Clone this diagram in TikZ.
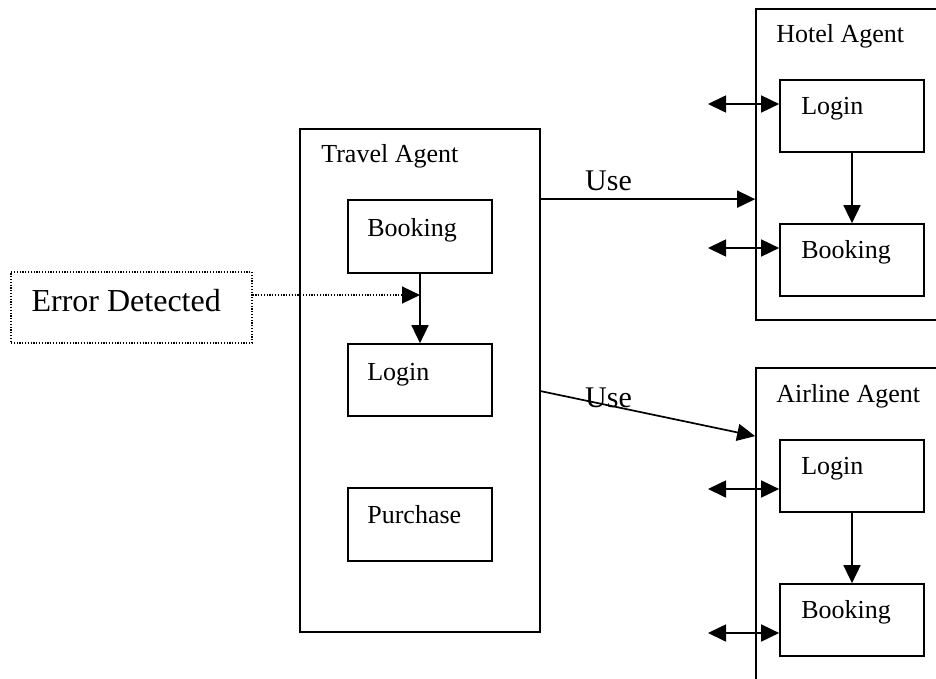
\documentclass[tikz,border=0pt]{standalone}
\usepackage{fontspec}
\setmainfont{Liberation Serif}
\usetikzlibrary{arrows.meta,calc}
\begin{document}
\begin{tikzpicture}[x=1pt,y=-1pt,
  box/.style={draw,line width=1.7pt,rectangle,inner sep=0pt},
  txt/.style={anchor=base west,inner sep=0pt,font=\fontsize{26}{30}\selectfont},
  bigtxt/.style={anchor=base west,inner sep=0pt,font=\fontsize{32}{36}\selectfont},
  usetxt/.style={anchor=base west,inner sep=0pt,font=\fontsize{30}{34}\selectfont},
  arr/.style={line width=1.7pt,-{Triangle[length=18pt,width=17pt]}},
  dbl/.style={line width=1.7pt,{Triangle[length=18pt,width=17pt]}-{Triangle[length=18pt,width=17pt]}},
  dots/.style={line width=1.2pt,dash pattern=on 1.2pt off 1.6pt,-{Triangle[length=18pt,width=17pt]}}
]
\useasboundingbox (0,0) rectangle (936,679);
\clip (0,0) rectangle (936,679);
% Travel agent
\node[box,minimum width=240,minimum height=503] (ta) at (420,380.5) {};
\node[txt] (tat) at ([shift={(22,34)}]ta.north west) {Travel Agent};
\node[box,minimum width=144,minimum height=73] (tb) at (420,236.5) {};
\node[txt] (tbt) at ([shift={(20,37)}]tb.north west) {Booking};
\node[box,minimum width=144,minimum height=72] (tl) at (420,380) {};
\node[txt] (tlt) at ([shift={(20,37)}]tl.north west) {Login};
\node[box,minimum width=144,minimum height=73] (tp) at (420,524.5) {};
\node[txt] (tpt) at ([shift={(20,36)}]tp.north west) {Purchase};
% Hotel agent
\node[box,minimum width=220,minimum height=311] (ha) at (866,164.5) {};
\node[txt] (hat) at ([shift={(21,34)}]ha.north west) {Hotel Agent};
\node[box,minimum width=144,minimum height=72] (hl) at (852,116) {};
\node[txt] (hlt) at ([shift={(22,35)}]hl.north west) {Login};
\node[box,minimum width=144,minimum height=72] (hb) at (852,260) {};
\node[txt] (hbt) at ([shift={(22,35)}]hb.north west) {Booking};
% Airline agent
\node[box,minimum width=220,minimum height=340] (aa) at (866,538) {};
\node[txt] (aat) at ([shift={(21,35)}]aa.north west) {Airline Agent};
\node[box,minimum width=144,minimum height=72] (al) at (852,476) {};
\node[txt] (alt) at ([shift={(22,35)}]al.north west) {Login};
\node[box,minimum width=144,minimum height=72] (ab) at (852,620) {};
\node[txt] (abt) at ([shift={(22,35)}]ab.north west) {Booking};
% Error detected
\node[box,line width=1.2pt,dash pattern=on 1.2pt off 1.6pt,minimum width=241,minimum height=71] (er) at (131.5,307.5) {};
\node[bigtxt] (ert) at ([shift={(21,40)}]er.north west) {Error Detected};
% connectors
\draw[arr] (tb.south) -- (tl.north);
\draw[arr] (hl.south) -- (hb.north);
\draw[arr] (al.south) -- (ab.north);
\coordinate (es) at ([yshift=12.5pt]er.east);
\draw[dots] (es) -- (es -| tb.south);
\coordinate (u1) at ([yshift=-71pt]ta.north east);
\draw[arr] (u1) -- (u1 -| ha.west);
\node[usetxt] (use1) at (585,190) {Use};
\coordinate (u2) at ([yshift=-263pt]ta.north east);
\coordinate (u2e) at ([yshift=-69pt]aa.north west);
\draw[arr] (u2) -- (u2e);
\node[usetxt] (use2) at (585,407) {Use};
\coordinate (hd1) at (708,104);
\coordinate (hd2) at (708,248);
\coordinate (ad1) at (708,489);
\coordinate (ad2) at (708,633);
\draw[dbl] (hd1) -- (hd1 -| hl.west);
\draw[dbl] (hd2) -- (hd2 -| hb.west);
\draw[dbl] (ad1) -- (ad1 -| al.west);
\draw[dbl] (ad2) -- (ad2 -| ab.west);
\end{tikzpicture}
\end{document}
